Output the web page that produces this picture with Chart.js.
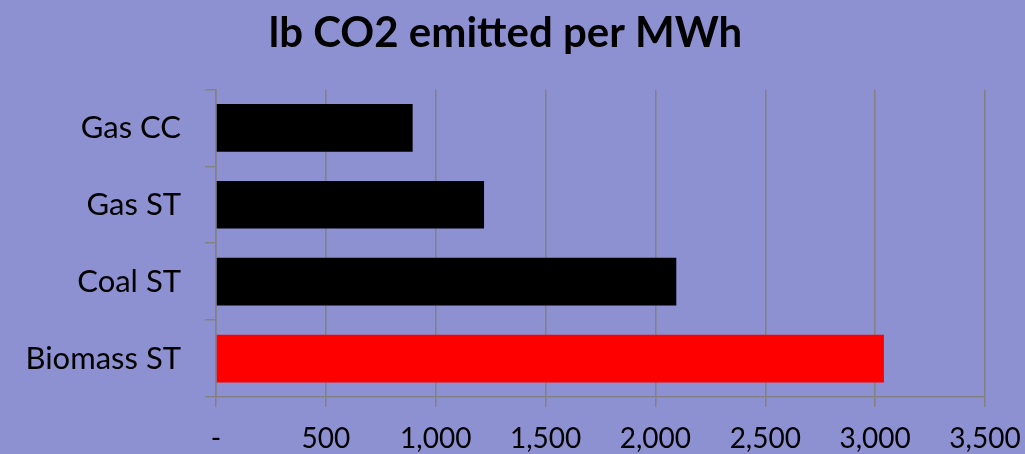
<!DOCTYPE html>
<html>
<head>
<meta charset="utf-8">
<script src="https://cdn.jsdelivr.net/npm/chart.js@4/dist/chart.umd.min.js"></script>
<style>
  html, body { margin: 0; padding: 0; background: #8d91d1; }
  #wrap { width: 1025px; height: 454px; }
</style>
</head>
<body>
<div id="wrap"><canvas id="canvas" width="1025" height="454"></canvas></div>
<script>
var categories = [ "Gas CC", "Gas ST", "Coal ST", "Biomass ST" ];
var emissions = [ 895, 1220, 2095, 3040 ];
var barColors = [ "#000000", "#000000", "#000000", "#ff0000" ];
var tickValues = [ 0, 500, 1000, 1500, 2000, 2500, 3000, 3500 ];
var tickLabels = [ "-", "500", "1,000", "1,500", "2,000", "2,500", "3,000", "3,500" ];

var FONT = "Lato, 'Open Sans', sans-serif";
var GRID = "#828282";

window.onload = function() {
	var ctx = document.getElementById("canvas").getContext("2d");
	window.myBar = new Chart(ctx, {
		type : 'bar',
		data : {
			labels : categories,
			datasets : [ {
				label : 'lb CO2',
				data : emissions,
				backgroundColor : barColors,
				borderWidth : 0,
				barPercentage : 0.62,
				categoryPercentage : 1.0
			} ]
		},
		options : {
			indexAxis : 'y',
			responsive : false,
			animation : false,
			layout : {
				padding : { left : 26, right : 40, top : 0, bottom : 0 }
			},
			plugins : {
				legend : { display : false },
				tooltip : { enabled : false },
				title : {
					display : true,
					text : 'lb CO2 emitted per MWh',
					color : '#000',
					font : { family : FONT, size : 42, weight : 'bold' },
					padding : { top : 8, bottom : 31 }
				}
			},
			scales : {
				x : {
					min : 0,
					max : 3500,
					afterBuildTicks : function(axis) {
						axis.ticks = tickValues.map(function(v) { return { value : v }; });
					},
					afterFit : function(axis) {
						axis.height = 57;
						axis.paddingLeft = 0;
						axis.paddingRight = 0;
					},
					ticks : {
						color : '#000',
						font : { family : FONT, size : 28 },
						padding : 15,
						maxRotation : 0,
						callback : function(value) {
							return tickLabels[tickValues.indexOf(value)];
						}
					},
					grid : {
						color : GRID,
						lineWidth : 1.5,
						tickLength : 10,
						drawTicks : true
					},
					border : { color : GRID, width : 1.5 }
				},
				y : {
					afterFit : function(axis) { axis.width = 190; },
					ticks : {
						color : '#000',
						font : { family : FONT, size : 31 },
						padding : 24
					},
					grid : {
						color : GRID,
						lineWidth : 1.5,
						drawOnChartArea : false,
						tickLength : 11,
						offset : true
					},
					border : { color : GRID, width : 1.5 }
				}
			}
		}
	});
};
</script>
</body>
</html>
